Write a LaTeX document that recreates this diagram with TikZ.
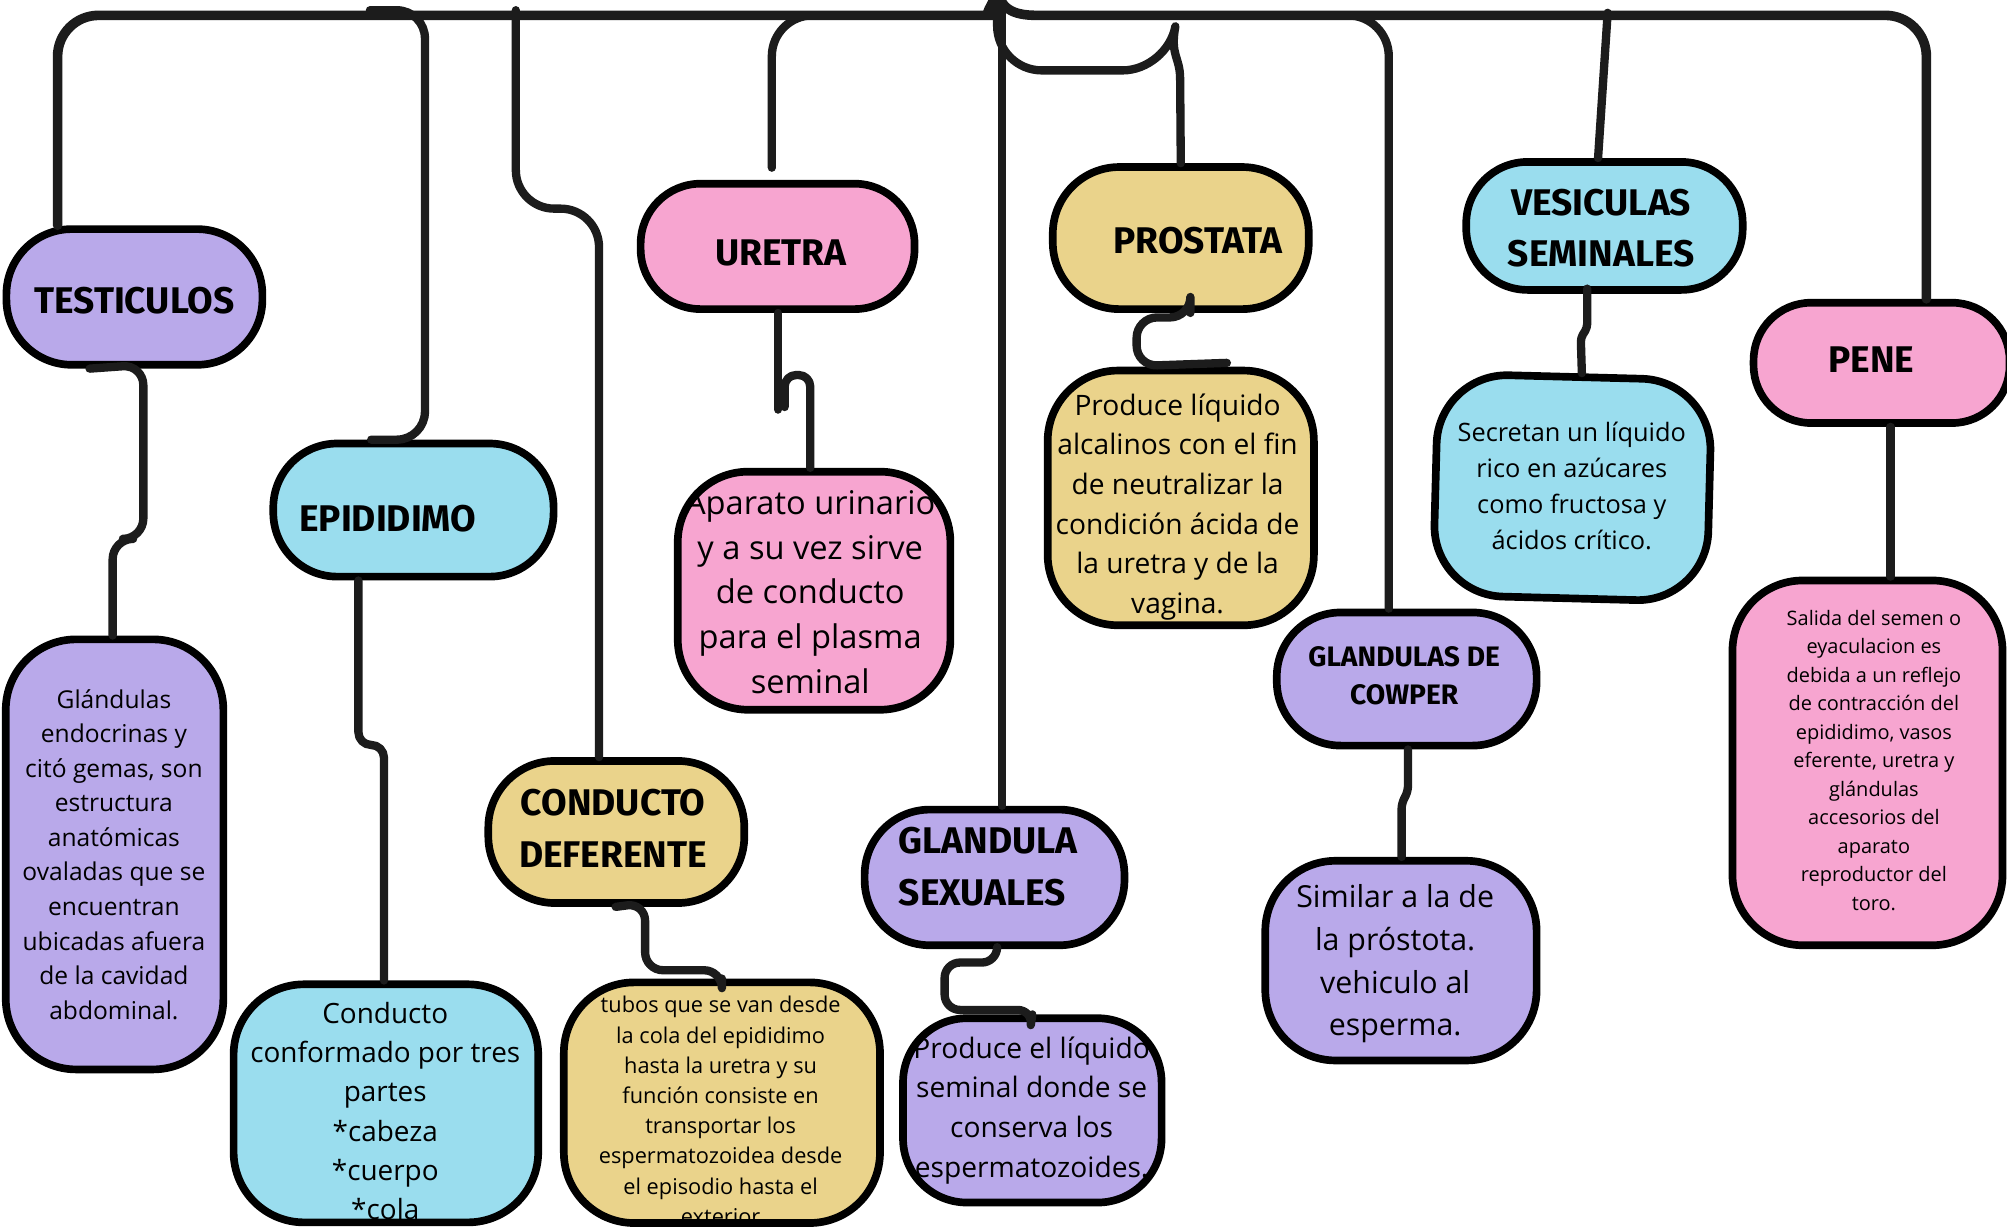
\documentclass[tikz,border=0pt]{standalone}
\usepackage{fontspec}
\setmainfont{Open Sans}
\newfontfamily\titlef{Fira Sans}
\usetikzlibrary{calc}
\definecolor{cpurple}{HTML}{B9A9EA}
\definecolor{cblue}{HTML}{9ADDEE}
\definecolor{cpink}{HTML}{F7A5D0}
\definecolor{cyellow}{HTML}{EAD38B}
\definecolor{cline}{HTML}{1C1C1C}
\begin{document}
\begin{tikzpicture}[x=1pt,y=-1pt,
  box/.style={draw=black, line width=6pt, inner sep=0pt, rounded corners=#1},
  box/.default=48,
  conn/.style={draw=cline, line width=6.5pt, line cap=round, line join=round},
  bar/.style={draw=cline, line width=7.5pt, line cap=round, line join=round},
  ttl/.style={inner sep=0pt, align=center, text=black, font=\titlef\bfseries\fontsize{29}{41}\selectfont},
  txt/.style={inner sep=0pt, align=center, text=black},
]
\fill[white] (0,0) rectangle (1568,960);
\useasboundingbox (0,0) rectangle (1568,960);

% title boxes
\node[box=51, fill=cpurple, minimum width=200, minimum height=106] (testi) at (105,232) {};
\node[box=50, fill=cblue, minimum width=219, minimum height=104] (epi) at (323,398.5) {};
\node[box=47, fill=cpink, minimum width=214, minimum height=98] (uretra) at (607.5,192.5) {};
\node[box=52, fill=cyellow, minimum width=200, minimum height=111] (condef) at (481.5,650) {};
\node[box=51, fill=cpurple, minimum width=203, minimum height=106] (glsex) at (777,685.5) {};
\node[box=52, fill=cyellow, minimum width=200, minimum height=111] (prost) at (922.5,186) {};
\node[box=48, fill=cblue, minimum width=216, minimum height=100] (vesic) at (1253.5,176.5) {};
\node[box=45, fill=cpink, minimum width=200, minimum height=94] (pene) at (1470,283.5) {};
\node[box=50, fill=cpurple, minimum width=203, minimum height=104] (cowper) at (1099,530.5) {};

% description boxes
\node[box=55, fill=cpurple, minimum width=170, minimum height=336] (testiD) at (89.5,667.5) {};
\node[box=55, fill=cblue, minimum width=238, minimum height=186] (epiD) at (301.5,862) {};
\node[box=55, fill=cpink, minimum width=213, minimum height=186] (uretraD) at (636,461.5) {};
\node[box=55, fill=cyellow, minimum width=247, minimum height=188] (condefD) at (564,861.5) {};
\node[box=50, fill=cpurple, minimum width=202, minimum height=144] (glsexD) at (806.5,867.5) {};
\node[box=55, fill=cyellow, minimum width=208, minimum height=199] (prostD) at (922.5,389) {};
\node[box=55, fill=cblue, minimum width=214, minimum height=173, rotate=-1.5] (vesicD) at (1228.5,381) {};
\node[box=55, fill=cpurple, minimum width=212, minimum height=156] (cowperD) at (1094.5,750.5) {};
\node[box=55, fill=cpink, minimum width=211, minimum height=285] (peneD) at (1459,596) {};

% connectors
\coordinate (root) at (779,-10);
\coordinate (epiS) at (289,8);
\coordinate (cdS) at (403,8);
\coordinate (urE) at (603,131);
\coordinate (urB) at (650,12);
\coordinate (urM) at (608,320);
\coordinate (urH) at (613,318);
\coordinate (vsS) at (1256,10);
\coordinate (cwS) at (1040,12);

\draw[bar] ($(testi.north)+(-60,0)$) [rounded corners=32] -- (45,12) -- (745,12) [sharp corners] .. controls (765,12) and (777,6) .. (root);
\draw[bar] (root) .. controls (781,6) and (790,12) .. (810,12) [rounded corners=32] -- (1505,12) -- ($(pene.north)+(35,0)$);
\draw[conn] ($(glsex.north)+(6,0)$) |- (root);
\draw[conn] (root) [rounded corners=35] |- (912,55) [sharp corners] .. controls (914,44) and (922,44) .. (922,62) -- (prost.north);
\draw[conn, rounded corners=22] (epiS) -- (332,8) -- ($(epi.north)+(9,0)$) -- ($(epi.north)+(-33,0)$);
\draw[conn, rounded corners=30] (cdS) -- (403,163) -- (468,163) -- ($(condef.north)+(-13.5,0)$);
\draw[conn, rounded corners=32] (urE) -- (603,12) -- (urB);
\draw[conn, rounded corners=32] (cwS) -- (1085,12) -- ($(cowper.north)+(-14,0)$);
\draw[conn] (vsS) -- ($(vesic.north)+(-5,0)$);

\draw[conn, rounded corners=16] ($(testi.south)+(-35,0)$) -- (112,285) -- (112,421) -- (88,421) -- ($(testiD.north)+(-1.5,0)$);
\draw[conn, rounded corners=10] ($(epi.south)+(-43,0)$) -- (280,582) -- (300,582) -- ($(epiD.north)+(-1.5,0)$);
\draw[conn] ($(uretra.south)+(0.5,0)$) -- (urM);
\draw[conn, rounded corners=9] (urH) -- (613,293) -- (633,293) -- ($(uretraD.north)+(-3,0)$);
\draw[conn, rounded corners=14] ($(condef.south)+(-0.5,0)$) -- (504,705.5) -- (504,758) -- (564,758) -- (condefD.north);
\draw[conn, rounded corners=12] ($(glsex.south)+(2,0)$) -- (779,752) -- (738,752) -- (738,789) -- (807,789) -- (glsexD.north);
\draw[conn, rounded corners=16] ($(prost.south)+(7.5,0)$) -- (930,248) -- (888,248) -- (888,286) -- ($(prostD.north)+(36,-3)$);
\draw[conn, rounded corners=3] ($(vesic.south)+(-13.5,-4)$) -- (1240,256) -- (1235,264) -- ($(vesicD.north)+(5,0)$);
\draw[conn] ($(pene.south)+(7,0)$) -- ($(peneD.north)+(18,0)$);
\draw[conn, rounded corners=4] ($(cowper.south)+(1,0)$) -- (1100,618) -- (1095,628) -- ($(cowperD.north)+(0.5,0)$);

% title texts
\node[ttl] (testiT) at (105,235) {TESTICULOS};
\node[ttl] (epiT) at (303,405) {EPIDIDIMO};
\node[ttl] (uretraT) at (610,198) {URETRA};
\node[ttl] (condefT) at (479,647) {CONDUCTO\\DEFERENTE};
\node[ttl, align=left] (glsexT) at (772,677) {GLANDULA\\SEXUALES};
\node[ttl] (prostT) at (936,188) {PROSTATA};
\node[ttl, font=\titlef\bfseries\fontsize{29}{40}\selectfont] (vesicT) at (1251,178) {VESICULAS\\SEMINALES};
\node[ttl] (peneT) at (1462,281) {PENE};
\node[ttl, font=\titlef\bfseries\fontsize{22}{30}\selectfont] (cowperT) at (1097,528) {GLANDULAS DE\\COWPER};

% description texts
\node[txt, font=\fontsize{19.2}{27}\selectfont] (testiDT) at (89,667.5) {Glándulas\\endocrinas y\\citó gemas, son\\estructura\\anatómicas\\ovaladas que se\\encuentran\\ubicadas afuera\\de la cavidad\\abdominal.};
\node[txt, font=\fontsize{21.8}{30.5}\selectfont] (epiDT) at (301,868) {Conducto\\conformado por tres\\partes\\*cabeza\\*cuerpo\\*cola};
\node[txt, font=\fontsize{25.5}{35}\selectfont] (uretraDT) at (633,462.5) {Aparato urinario\\y a su vez sirve\\de conducto\\para el plasma\\seminal};
\node[txt, font=\fontsize{17}{23.6}\selectfont] (condefDT) at (563,867.5) {tubos que se van desde\\la cola del epididimo\\hasta la uretra y su\\función consiste en\\transportar los\\espermatozoidea desde\\el episodio hasta el\\exterior};
\node[txt, font=\fontsize{22}{31}\selectfont] (glsexDT) at (806,867.5) {Produce el líquido\\seminal donde se\\conserva los\\espermatozoides.};
\node[txt, font=\fontsize{22}{31}\selectfont] (prostDT) at (920,396) {Produce líquido\\alcalinos con el fin\\de neutralizar la\\condición ácida de\\la uretra y de la\\vagina.};
\node[txt, font=\fontsize{19.8}{28}\selectfont] (vesicDT) at (1228,379.5) {Secretan un líquido\\rico en azúcares\\como fructosa y\\ácidos crítico.};
\node[txt, font=\fontsize{23.7}{33.3}\selectfont] (cowperDT) at (1090,753) {Similar a la de\\la próstota.\\vehiculo al\\esperma.};
\node[txt, font=\fontsize{15.6}{22.3}\selectfont] (peneDT) at (1464,594) {Salida del semen o\\eyaculacion es\\debida a un reflejo\\de contracción del\\epididimo, vasos\\eferente, uretra y\\glándulas\\accesorios del\\aparato\\reproductor del\\toro.};
\end{tikzpicture}
\end{document}
